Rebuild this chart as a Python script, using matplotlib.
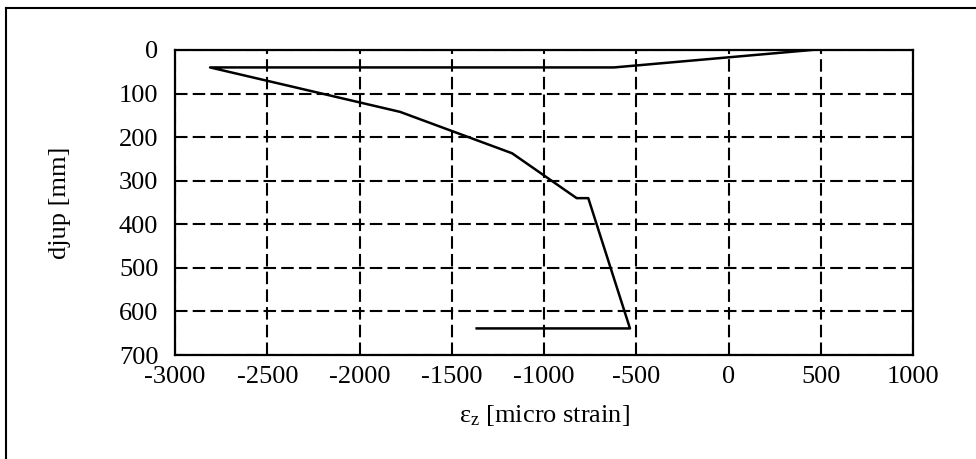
import numpy as np
import matplotlib.pyplot as plt
from matplotlib.lines import Line2D

# strain profile (micro strain vs depth in mm)
strain = [450, -620, -2810, -1780, -1173, -823, -760, -534, -1365]
depth = [0, 40, 40, 142, 237, 340, 340, 639, 639]

x_ticks = [-3000, -2500, -2000, -1500, -1000, -500, 0, 500, 1000]
y_ticks = [0, 100, 200, 300, 400, 500, 600, 700]

plt.rcParams['font.family'] = ['Liberation Serif', 'DejaVu Serif']
plt.rcParams['mathtext.default'] = 'regular'
plt.rcParams['axes.unicode_minus'] = False

fig = plt.figure(figsize=(9.76, 4.59), dpi=100)
ax = fig.add_axes([175/976, 1 - 355/459, (913-175)/976, (355-50)/459])

ax.plot(strain, depth, color='black', lw=1.8, zorder=3)

ax.set_xlim(-3000, 1000)
ax.set_ylim(700, 0)
ax.set_xticks(x_ticks)
ax.set_yticks(y_ticks)
ax.grid(True, color='black', lw=1.5, ls=(0, (6, 2.5)))
ax.tick_params(axis='x', length=0, pad=8, labelsize=19)
ax.tick_params(axis='y', length=0, pad=12, labelsize=19)
for s in ax.spines.values():
    s.set_linewidth(1.6)

ax.set_xlabel('ε$_z$ [micro strain]', fontsize=19, va='center')
ax.set_ylabel('djup [mm]', fontsize=19, va='center')
ax.xaxis.set_label_coords(0.5, (355 - 415) / 305)
ax.yaxis.set_label_coords((60 - 175) / 738, 0.5)

# outer frame (only left and top edges are inside the picture)
fig.add_artist(Line2D([5.5/976, 5.5/976], [0, 1 - 8/459], color='black', lw=1.5))
fig.add_artist(Line2D([5.5/976, 1], [1 - 8/459, 1 - 8/459], color='black', lw=1.5))

fig.savefig('out.png', dpi=100)
